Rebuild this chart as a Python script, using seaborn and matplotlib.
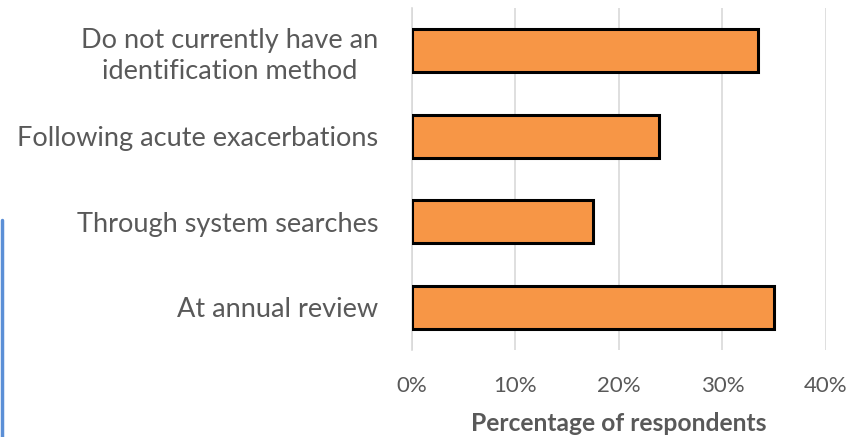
import matplotlib
matplotlib.use("Agg")
import matplotlib.pyplot as plt
import matplotlib.lines as mlines
from matplotlib.ticker import FuncFormatter
import seaborn as sns
import pandas as pd

categories = ["Do not currently have an\nidentification method",
              "Following acute exacerbations",
              "Through system searches",
              "At annual review"]
values = [33.4, 23.9, 17.5, 35.0]
x_ticks = [0, 10, 20, 30, 40]

df = pd.DataFrame({"category": categories, "value": values})

sns.set_theme(style="white")
plt.rcParams['font.family'] = ['Lato', 'DejaVu Sans']

W, H = 852, 437
fig = plt.figure(figsize=(W / 100, H / 100), dpi=100)
ax = fig.add_axes([411.5 / W, 1 - 350 / H, (826 - 411.5) / W, (350 - 8) / H])

sns.barplot(data=df, x="value", y="category", orient="h", ax=ax,
            color="#F79646", saturation=1, width=0.5,
            edgecolor="black", linewidth=2.2, zorder=3)

ax.set_xlim(0, 40)
ax.set_xticks(x_ticks)
ax.xaxis.set_major_formatter(FuncFormatter(lambda v, p: f"{v:.0f}%"))
ax.grid(axis="x", color="#d9d9d9", linewidth=1.2, zorder=0)
ax.set_axisbelow(True)
for s in ["top", "right", "bottom"]:
    ax.spines[s].set_visible(False)
ax.spines["left"].set_color("#d9d9d9")
ax.spines["left"].set_linewidth(1.2)

ax.tick_params(axis="both", length=0, colors="#595959")
ax.tick_params(axis="x", pad=19, labelsize=16)
ax.tick_params(axis="y", pad=24, labelsize=19.5)
for lab in ax.get_yticklabels():
    lab.set_multialignment("center")
    lab.set_linespacing(1.3)
ax.set_ylabel("")
ax.set_xlabel("Percentage of respondents", fontsize=17.7, fontweight="bold",
              color="#595959", labelpad=11)

fig.add_artist(mlines.Line2D([2 / W, 2 / W], [0, 1 - 220 / H],
                             color="#5B8FD6", linewidth=2.5))

fig.savefig("out.png", dpi=100)
